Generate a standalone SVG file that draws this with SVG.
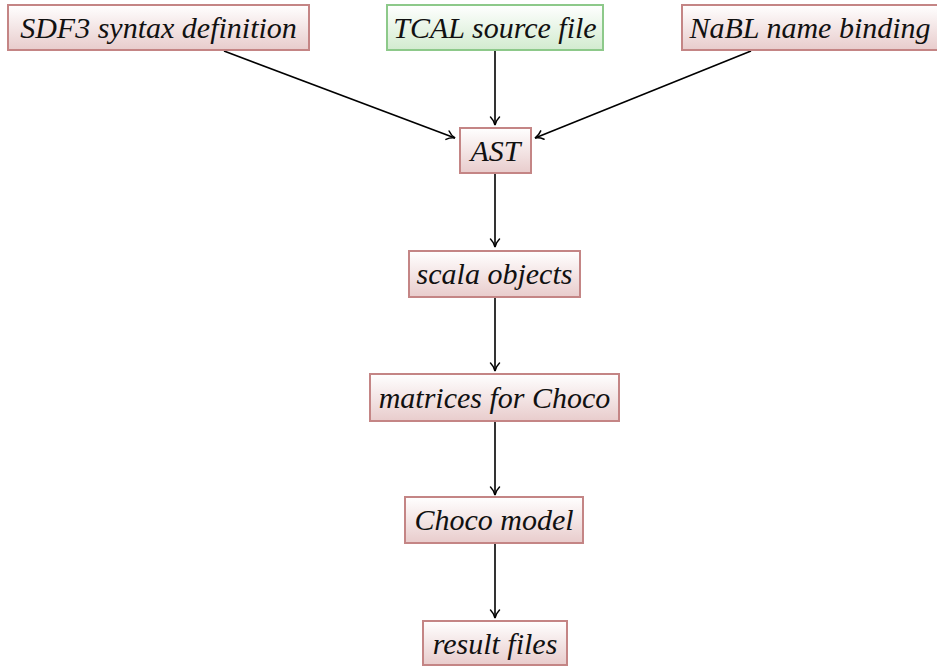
<svg xmlns="http://www.w3.org/2000/svg" width="937" height="666" viewBox="0 0 937 666">
<defs>
<linearGradient id="gr" x1="0" y1="0" x2="0" y2="1">
<stop offset="0" stop-color="#ffffff"/>
<stop offset="1" stop-color="#e8cccc"/>
</linearGradient>
<linearGradient id="gg" x1="0" y1="0" x2="0" y2="1">
<stop offset="0" stop-color="#ffffff"/>
<stop offset="1" stop-color="#d2ebcf"/>
</linearGradient>
<marker id="ah" markerWidth="14" markerHeight="14" refX="11" refY="7" orient="auto" markerUnits="userSpaceOnUse">
<path d="M3,2.5 Q6.5,6 11,7 Q6.5,8 3,11.5" fill="none" stroke="#000" stroke-width="1.5" stroke-linecap="round"/>
</marker>
<style>
.r{fill:url(#gr);stroke:#c48585;stroke-width:2}
.g{fill:url(#gg);stroke:#8dc98a;stroke-width:2}
text{font-family:"Liberation Serif","DejaVu Serif",serif;font-style:italic;font-size:30px;fill:#111;text-anchor:middle}
.e{stroke:#000;stroke-width:1.6;fill:none;marker-end:url(#ah)}
</style>
</defs>
<g id="edges">
<line class="e" x1="224" y1="51" x2="455" y2="138"/>
<line class="e" x1="495" y1="51" x2="495" y2="125"/>
<line class="e" x1="751" y1="51" x2="535" y2="138"/>
<line class="e" x1="495" y1="174" x2="495" y2="247"/>
<line class="e" x1="495" y1="298" x2="495" y2="371"/>
<line class="e" x1="495" y1="422" x2="495" y2="495"/>
<line class="e" x1="495" y1="544" x2="495" y2="618"/>
</g>
<g id="sdf3"><rect class="r" x="8" y="5" width="301" height="45"/><text x="158.5" y="37.5">SDF3 syntax definition</text></g>
<g id="tcal"><rect class="g" x="387" y="5" width="216" height="45"/><text x="495" y="37.5">TCAL source file</text></g>
<g id="nabl"><rect class="r" x="682" y="5" width="262" height="45"/><text x="810" y="37.5">NaBL name binding</text></g>
<g id="ast"><rect class="r" x="460" y="128" width="71" height="45"/><text x="495.5" y="160.5">AST</text></g>
<g id="scala"><rect class="r" x="409" y="251" width="171" height="46"/><text x="494.5" y="283.5">scala objects</text></g>
<g id="matrices"><rect class="r" x="370" y="374" width="249" height="47"/><text x="494.5" y="407.5">matrices for Choco</text></g>
<g id="choco"><rect class="r" x="405" y="497" width="178" height="46"/><text x="494" y="529.5">Choco model</text></g>
<g id="result"><rect class="r" x="423" y="621" width="144" height="44"/><text x="495" y="653.5">result files</text></g>
</svg>
